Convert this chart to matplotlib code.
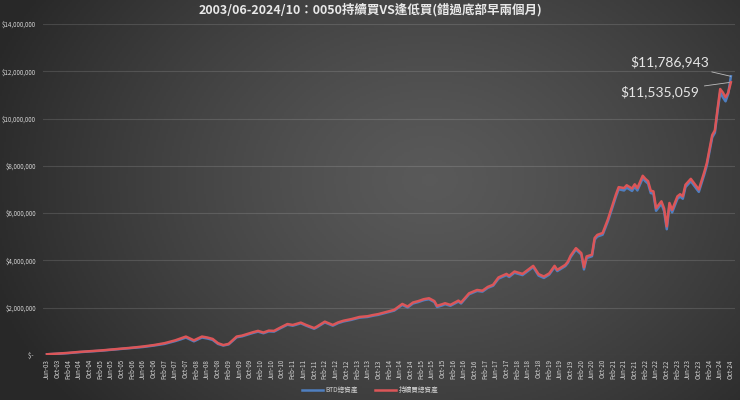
import numpy as np
import matplotlib
matplotlib.use("Agg")
import matplotlib.pyplot as plt
from matplotlib.ticker import FuncFormatter

plt.rcParams['font.family'] = ['Noto Sans CJK TC', 'DejaVu Sans']

# month index, 0 = Jun-03 ... 256 = Oct-24
months = [0, 4, 8, 12, 16, 20, 24, 28, 32, 36, 40, 44, 46, 48, 50, 52, 55, 58, 60, 62,
          64, 66, 68, 71, 73, 75, 77, 79, 81, 83, 85, 87, 90, 92, 95, 97, 100, 101, 104, 107,
          109, 111, 114, 117, 120, 122, 124, 126, 128, 130, 133, 135, 137, 139, 141, 143, 145, 146, 148, 149,
          151, 154, 155, 158, 161, 163, 165, 167, 169, 172, 173, 175, 178, 180, 182, 184, 186, 188, 190, 191,
          194, 195, 196, 198, 200, 201, 202, 204, 205, 206, 208, 210, 211, 213, 214, 216, 217, 219, 220, 221,
          223, 224, 225, 226, 227, 228, 230, 231, 232, 233, 234, 236, 237, 238, 239, 241, 242, 244, 246, 247,
          248, 249, 250, 251, 252, 253, 254, 255, 256]

# total assets (millions NTD), buy & hold every month
hold_vals = [0.03, 0.06, 0.09, 0.13, 0.16, 0.19, 0.23, 0.27, 0.31, 0.36, 0.42, 0.50, 0.56, 0.62, 0.70, 0.78, 0.62, 0.78, 0.74, 0.68,
             0.50, 0.42, 0.47, 0.78, 0.82, 0.89, 0.96, 1.02, 0.95, 1.03, 1.02, 1.14, 1.31, 1.27, 1.37, 1.27, 1.14, 1.20, 1.41, 1.27,
             1.38, 1.45, 1.52, 1.61, 1.64, 1.69, 1.73, 1.79, 1.85, 1.91, 2.16, 2.05, 2.22, 2.28, 2.36, 2.40, 2.28, 2.08, 2.15, 2.19,
             2.12, 2.30, 2.22, 2.61, 2.75, 2.72, 2.88, 2.97, 3.28, 3.43, 3.35, 3.53, 3.43, 3.60, 3.77, 3.42, 3.32, 3.45, 3.77, 3.60,
             3.81, 3.95, 4.20, 4.52, 4.31, 3.71, 4.17, 4.24, 4.95, 5.08, 5.16, 5.75, 6.10, 6.80, 7.10, 7.06, 7.18, 7.04, 7.22, 7.06,
             7.58, 7.45, 7.35, 6.95, 6.92, 6.21, 6.50, 6.20, 5.44, 6.43, 6.14, 6.71, 6.80, 6.71, 7.20, 7.45, 7.30, 7.00, 7.72, 8.12,
             8.70, 9.30, 9.50, 10.40, 11.25, 11.10, 10.90, 11.10, 11.535059]

# total assets (millions NTD), buy the dip
btd_vals = [0.03, 0.05, 0.08, 0.12, 0.15, 0.18, 0.22, 0.26, 0.30, 0.34, 0.40, 0.47, 0.53, 0.59, 0.66, 0.74, 0.58, 0.74, 0.70, 0.64,
            0.47, 0.40, 0.45, 0.75, 0.79, 0.86, 0.93, 0.99, 0.92, 1.00, 0.99, 1.11, 1.28, 1.24, 1.34, 1.24, 1.11, 1.17, 1.38, 1.24,
            1.35, 1.42, 1.49, 1.58, 1.61, 1.66, 1.70, 1.76, 1.82, 1.88, 2.12, 2.01, 2.18, 2.24, 2.32, 2.36, 2.24, 2.03, 2.10, 2.15,
            2.08, 2.26, 2.18, 2.57, 2.71, 2.68, 2.84, 2.93, 3.23, 3.38, 3.30, 3.48, 3.38, 3.55, 3.72, 3.36, 3.26, 3.40, 3.72, 3.55,
            3.76, 3.90, 4.14, 4.46, 4.25, 3.62, 4.10, 4.18, 4.88, 5.01, 5.09, 5.67, 6.02, 6.71, 7.01, 6.96, 7.08, 6.94, 7.12, 6.96,
            7.48, 7.35, 7.25, 6.85, 6.82, 6.10, 6.40, 6.08, 5.32, 6.33, 6.03, 6.61, 6.70, 6.61, 7.10, 7.35, 7.20, 6.90, 7.62, 8.02,
            8.60, 9.20, 9.40, 10.30, 11.10, 10.90, 10.73, 11.05, 11.786943]

month_names = ['Jun', 'Oct', 'Feb']
tick_pos = list(range(0, 257, 4))
tick_labels = []
yr = 3
for i, p in enumerate(tick_pos):
    name = month_names[i % 3]
    if name == 'Feb':
        yr += 1
    tick_labels.append('%s-%02d' % (name, yr))

hold = np.array(hold_vals) * 1e6
btd = np.array(btd_vals) * 1e6

fig = plt.figure(figsize=(7.4, 4.0), dpi=100)

# radial gradient background
bg = fig.add_axes([0, 0, 1, 1], zorder=0)
gx, gy = np.meshgrid(np.linspace(0, 7.4, 370), np.linspace(0, 4.0, 200))
r = np.sqrt((gx - 4.3) ** 2 + ((gy - 2.2) * 1.3) ** 2) / 4.6
shade = 0.35 - 0.19 * np.clip(r, 0, 1) ** 1.3
bg.imshow(np.dstack([shade, shade, shade]), extent=[0, 1, 0, 1], aspect='auto', origin='lower')
bg.axis('off')

ax = fig.add_axes([0.0581, 0.1125, 0.935, 0.8275], zorder=1)
ax.patch.set_alpha(0)

ax.plot(months, btd, color='#4f7fc0', lw=1.8, label='BTD總資產', zorder=3)
ax.plot(months, hold, color='#dc5658', lw=1.8, label='持續買總資產', zorder=4)

ax.set_xlim(-1.5, 257.5)
ax.set_ylim(0, 14e6)
ax.set_yticks(np.arange(0, 14e6 + 1, 2e6))
ax.yaxis.set_major_formatter(FuncFormatter(lambda v, p: '$-  ' if v == 0 else '${:,.0f}'.format(v)))
ax.set_xticks(tick_pos)
ax.set_xticklabels(tick_labels, rotation=90)
ax.tick_params(axis='both', length=0, colors='#d4d4d4', labelsize=4.5)
ax.tick_params(axis='y', pad=5)
ax.tick_params(axis='x', pad=3)
ax.grid(axis='y', color='#ffffff', alpha=0.13, lw=0.8)
ax.set_axisbelow(True)
for s in ax.spines.values():
    s.set_visible(False)

fig.text(0.5, 0.975, '2003/06-2024/10：0050持續買VS逢低買(錯過底部早兩個月)',
         ha='center', va='center', fontsize=9, fontweight='bold', color='#e8e8e8')

ax.annotate('$11,786,943', xy=(256, 11.786943e6), xytext=(247.7, 12.39e6),
            ha='right', va='center', fontsize=10, color='#e6e6e6', family='Lato',
            arrowprops=dict(arrowstyle='-', color='#bdbdbd', lw=0.6, shrinkA=2, shrinkB=0))
ax.annotate('$11,535,059', xy=(256, 11.535059e6), xytext=(244, 11.12e6),
            ha='right', va='center', fontsize=10, color='#e6e6e6', family='Lato',
            arrowprops=dict(arrowstyle='-', color='#bdbdbd', lw=0.6, shrinkA=2, shrinkB=0))

leg = fig.legend(loc='center', bbox_to_anchor=(0.5, 0.025), ncol=2, frameon=False,
                 fontsize=4.8, labelcolor='#d4d4d4', handlelength=3.2, columnspacing=2.5,
                 handletextpad=0.4)

fig.savefig('out.png', dpi=100)
